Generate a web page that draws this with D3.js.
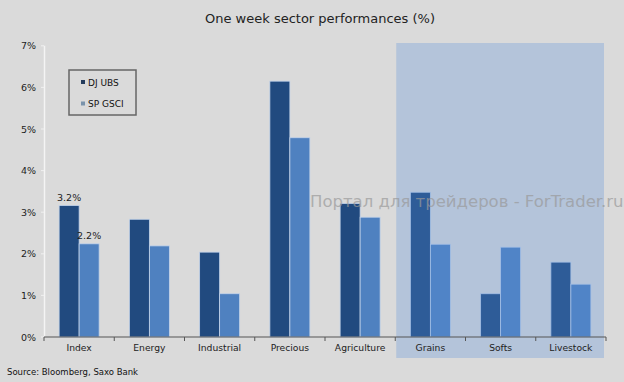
<!DOCTYPE html>
<html><head><meta charset="utf-8">
<script src="https://cdn.jsdelivr.net/npm/d3@7"></script>
<style>body{margin:0;background:#dadada}</style>
</head><body>
<svg id="c" width="624" height="382"></svg>
<script>
const categories = ["Index","Energy","Industrial","Precious","Agriculture","Grains","Softs","Livestock"];
const seriesNames = ["DJ UBS","SP GSCI"];
const djUbs = [3.16, 2.83, 2.04, 6.15, 3.21, 3.48, 1.04, 1.80];
const spGsci = [2.24, 2.19, 1.04, 4.79, 2.88, 2.23, 2.16, 1.27];
const yTicks = [0,1,2,3,4,5,6,7];
const highlighted = ["Grains","Softs","Livestock"];
const valueLabels = [{cat:"Index", series:0, text:"3.2%"},{cat:"Index", series:1, text:"2.2%"}];

const svg = d3.select("#c");
const W=624,H=382;
svg.append("rect").attr("width",W).attr("height",H).attr("fill","#dadada");
const x=d3.scaleBand().domain(categories).range([44,606]);
const y=d3.scaleLinear().domain([0,7]).range([337,45.8]);
const sx=d3.scaleBand().domain([0,1]).range([0,40]);
const colors=["#214a7f","#4f81c0"];
const font="DejaVu Sans, Verdana, sans-serif";

svg.append("text").attr("x",320).attr("y",23).attr("text-anchor","middle")
  .attr("font-family",font).attr("font-size",13).attr("fill","#222")
  .text("One week sector performances (%)");

// bars
const g=svg.append("g");
categories.forEach((c,i)=>{
  [djUbs[i],spGsci[i]].forEach((v,s)=>{
    g.append("rect").attr("x",x(c)+x.bandwidth()/2-20+sx(s)).attr("y",y(v))
     .attr("width",sx.bandwidth()).attr("height",y(0)-y(v))
     .attr("fill",colors[s]).attr("stroke","#c3d3ea").attr("stroke-width",0.8);
  });
});

// highlight overlay
svg.append("rect").attr("x",x(highlighted[0])+1).attr("y",43)
  .attr("width",x(highlighted[2])+x.bandwidth()-x(highlighted[0])-3).attr("height",315)
  .attr("fill","rgb(82,139,218)").attr("opacity",0.28);

// y axis
svg.append("line").attr("x1",44.5).attr("x2",44.5).attr("y1",y(7)).attr("y2",y(0)).attr("stroke","#f4f4f4").attr("stroke-width",1.5);
yTicks.forEach(t=>{
  svg.append("line").attr("x1",41).attr("x2",44).attr("y1",y(t)).attr("y2",y(t)).attr("stroke","#f0f0f0");
  svg.append("text").attr("x",36).attr("y",y(t)+3.5).attr("text-anchor","end")
    .attr("font-family",font).attr("font-size",9.5).attr("fill","#222").text(t+"%");
});

// x axis
const xa=svg.append("g").attr("transform","translate(0,337)");
xa.append("line").attr("x1",44).attr("x2",606).attr("stroke","#555").attr("stroke-width",1);
categories.forEach((c,i)=>{
  xa.append("line").attr("x1",x(c)+x.bandwidth()).attr("x2",x(c)+x.bandwidth()).attr("y1",0).attr("y2",4).attr("stroke","#555");
  xa.append("text").attr("x",x(c)+x.bandwidth()/2).attr("y",14).attr("text-anchor","middle")
    .attr("font-family",font).attr("font-size",9.2).attr("fill","#222").text(c);
});
xa.append("line").attr("x1",44).attr("x2",44).attr("y1",0).attr("y2",4).attr("stroke","#555");

// value labels
valueLabels.forEach(l=>{
  const i=categories.indexOf(l.cat);
  const v=l.series===0?djUbs[i]:spGsci[i];
  svg.append("text").attr("x",x(l.cat)+x.bandwidth()/2-20+sx(l.series)+sx.bandwidth()/2)
    .attr("y",y(v)-5).attr("text-anchor","middle")
    .attr("font-family",font).attr("font-size",9.5).attr("fill","#222").text(l.text);
});

// legend
const lg=svg.append("g");
lg.append("rect").attr("x",69).attr("y",70).attr("width",67).attr("height",45).attr("fill","#dadada").attr("stroke","#666").attr("stroke-width",1.5);
seriesNames.forEach((n,i)=>{
  const yy=82+i*21.5;
  lg.append("rect").attr("x",81).attr("y",yy-2).attr("width",4).attr("height",4).attr("fill",i===0?"#243c5c":"#7a93ab");
  lg.append("text").attr("x",88).attr("y",yy+3.5).attr("font-family",font).attr("font-size",9).attr("fill","#111").text(n);
});

// source
svg.append("text").attr("x",7).attr("y",375).attr("font-family",font).attr("font-size",8.5).attr("fill","#111").text("Source: Bloomberg, Saxo Bank");

// watermark
svg.append("text").attr("x",310).attr("y",207).attr("font-family",font).attr("font-size",16.5)
  .attr("fill","#9a9a9a").attr("opacity",0.7).text("Портал для трейдеров - ForTrader.ru");
</script>
</body></html>
